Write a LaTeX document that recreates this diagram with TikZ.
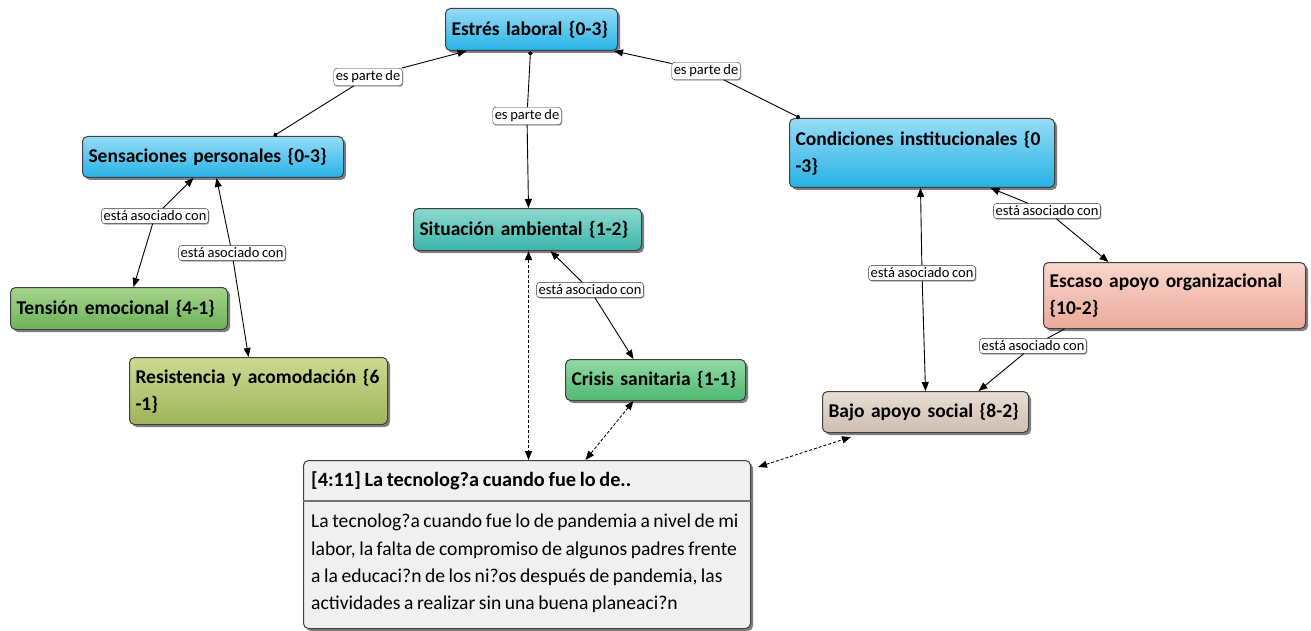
\documentclass[tikz,border=0pt]{standalone}
\usepackage{fontspec}
\setmainfont{Carlito}[WordSpace=0.8]
\usetikzlibrary{arrows.meta,shadows,calc}
\definecolor{bluetop}{RGB}{150,220,246}
\definecolor{bluebot}{RGB}{38,178,230}
\definecolor{tealtop}{RGB}{140,218,208}
\definecolor{tealbot}{RGB}{58,180,168}
\definecolor{greentop}{RGB}{165,212,140}
\definecolor{greenbot}{RGB}{108,178,88}
\definecolor{olivetop}{RGB}{205,218,145}
\definecolor{olivebot}{RGB}{158,180,92}
\definecolor{crisistop}{RGB}{145,218,165}
\definecolor{crisisbot}{RGB}{78,185,110}
\definecolor{pinktop}{RGB}{250,214,205}
\definecolor{pinkbot}{RGB}{235,170,155}
\definecolor{tantop}{RGB}{232,222,212}
\definecolor{tanbot}{RGB}{205,190,175}
\definecolor{quotefill}{RGB}{240,240,240}
\begin{document}
\begin{tikzpicture}[x=1pt,y=-1pt,
  box/.style={draw=black!75, line width=1pt, rounded corners=5pt, anchor=north west,
    align=left, inner xsep=6pt, inner ysep=2pt,
    font=\fontsize{19.5}{27}\selectfont\bfseries,
    drop shadow={shadow xshift=2.5pt, shadow yshift=-2.5pt, fill=black, opacity=0.5}},
  lab/.style={draw=black!80, fill=white, rounded corners=3pt, inner xsep=2pt, inner ysep=2.5pt,
    font=\fontsize{14.5}{16}\selectfont,
    drop shadow={shadow xshift=1pt, shadow yshift=-1pt, fill=black, opacity=0.35}},
  arr/.style={-{Triangle[length=9pt,width=7pt]}, line width=0.9pt},
  dotst/.style={{Circle[length=4.5pt]}-, line width=0.9pt},
  plain/.style={line width=0.9pt},
  dash2/.style={{Triangle[length=9pt,width=7pt]}-{Triangle[length=9pt,width=7pt]}, line width=0.9pt, dash pattern=on 3pt off 2pt}
]
\useasboundingbox (0,0) rectangle (1311,631);
% concept boxes
\node[box, top color=bluetop, bottom color=bluebot, minimum width=172pt, minimum height=42pt, text width=160pt] (estres) at (445,8) {\mbox{Estrés laboral \{0-3\}}};
\node[box, top color=bluetop, bottom color=bluebot, minimum width=261pt, minimum height=41pt, text width=249pt] (sens) at (82,136) {\mbox{Sensaciones personales \{0-3\}}};
\node[box, top color=tealtop, bottom color=tealbot, minimum width=228pt, minimum height=42pt, text width=216pt] (sit) at (413,208) {\mbox{Situación ambiental \{1-2\}}};
\node[box, top color=bluetop, bottom color=bluebot, minimum width=265pt, minimum height=69pt, text width=253pt] (cond) at (789,118) {\mbox{Condiciones institucionales \{0}\\-3\}};
\node[box, top color=greentop, bottom color=greenbot, minimum width=217pt, minimum height=42pt, text width=205pt] (tens) at (10,287) {\mbox{Tensión emocional \{4-1\}}};
\node[box, top color=olivetop, bottom color=olivebot, minimum width=258pt, minimum height=67pt, text width=246pt] (resis) at (129,357) {\mbox{Resistencia y acomodación \{6}\\-1\}};
\node[box, top color=crisistop, bottom color=crisisbot, minimum width=180pt, minimum height=41pt, text width=168pt] (crisis) at (565,359) {\mbox{Crisis sanitaria \{1-1\}}};
\node[box, top color=pinktop, bottom color=pinkbot, minimum width=262pt, minimum height=66pt, text width=250pt] (escaso) at (1043,262) {\mbox{Escaso apoyo organizacional}\\\{10-2\}};
\node[box, top color=tantop, bottom color=tanbot, minimum width=206pt, minimum height=41pt, text width=194pt] (bajo) at (822,391) {\mbox{Bajo apoyo social \{8-2\}}};
% quotation box
\node[box, fill=quotefill, minimum width=447pt, minimum height=168pt, text width=435pt] (q) at (303,460) {};
\draw[line width=2.2pt, black!55] ($(q.north west)+(0,41)$) -- ($(q.north east)+(0,41)$);
\node[anchor=west, font=\fontsize{20.3}{22}\selectfont\bfseries, inner sep=0pt] (qh) at (311,481) {[4:11] La tecnolog?a cuando fue lo de..};
\node[anchor=north west, align=left, inner sep=0pt, font=\fontsize{19.6}{27.3}\selectfont] (qb) at (311,514) {La tecnolog?a cuando fue lo de pandemia a nivel de mi\\labor, la falta de compromiso de algunos padres frente\\a la educaci?n de los ni?os después de pandemia, las\\actividades a realizar sin una buena planeaci?n};
% linking phrases
\node[lab] (L1) at (368,77) {es parte de};
\node[lab] (L2) at (527,116) {es parte de};
\node[lab] (L3) at (706,71) {es parte de};
\node[lab] (L4) at (155,216) {está asociado con};
\node[lab] (L5) at (232,253) {está asociado con};
\node[lab] (L6) at (590,290) {está asociado con};
\node[lab] (L7) at (922,273) {está asociado con};
\node[lab] (L8) at (1047,211) {está asociado con};
\node[lab] (L9) at (1033,346) {está asociado con};
% connectors
\draw[dotst] ([xshift=60.5pt]sens.north) -- (L1);
\draw[arr] (L1) -- ([xshift=-65pt]estres.south);
\draw[dotst] ([xshift=-1pt]estres.south) -- (L2);
\draw[arr] (L2) -- ([xshift=1pt]sit.north);
\draw[dotst] ([xshift=11pt]cond.north west) -- (L3);
\draw[arr] (L3) -- ([xshift=-4pt]estres.south east);
\draw[arr] (L4) -- ([xshift=-19.5pt]sens.south);
\draw[arr] (L4) -- ([xshift=14.5pt]tens.north);
\draw[arr] (L5) -- ([xshift=3.5pt]sens.south);
\draw[arr] (L5) -- ([xshift=-10pt]resis.north);
\draw[arr] (L6) -- ([xshift=23pt]sit.south);
\draw[arr] (L6) -- ([xshift=-22pt]crisis.north);
\draw[arr] (L7) -- ([xshift=-1.5pt]cond.south);
\draw[arr] (L7) -- (bajo.north);
\draw[arr] (L8) -- ([xshift=68.5pt]cond.south);
\draw[arr] (L8) -- ([xshift=-66pt]escaso.north);
\draw[plain] ([xshift=-110pt]escaso.south) -- (L9);
\draw[arr] (L9) -- ([xshift=53pt]bajo.north);
\draw[dash2] ([xshift=1pt]sit.south) -- ([xshift=1.5pt]q.north);
\draw[dash2] ([xshift=-22pt]crisis.south) -- ([xshift=58.5pt]q.north);
\draw[dash2] ([xshift=7pt,yshift=-7pt]q.north east) -- ([xshift=29pt,yshift=-4pt]bajo.south west);
\end{tikzpicture}
\end{document}
